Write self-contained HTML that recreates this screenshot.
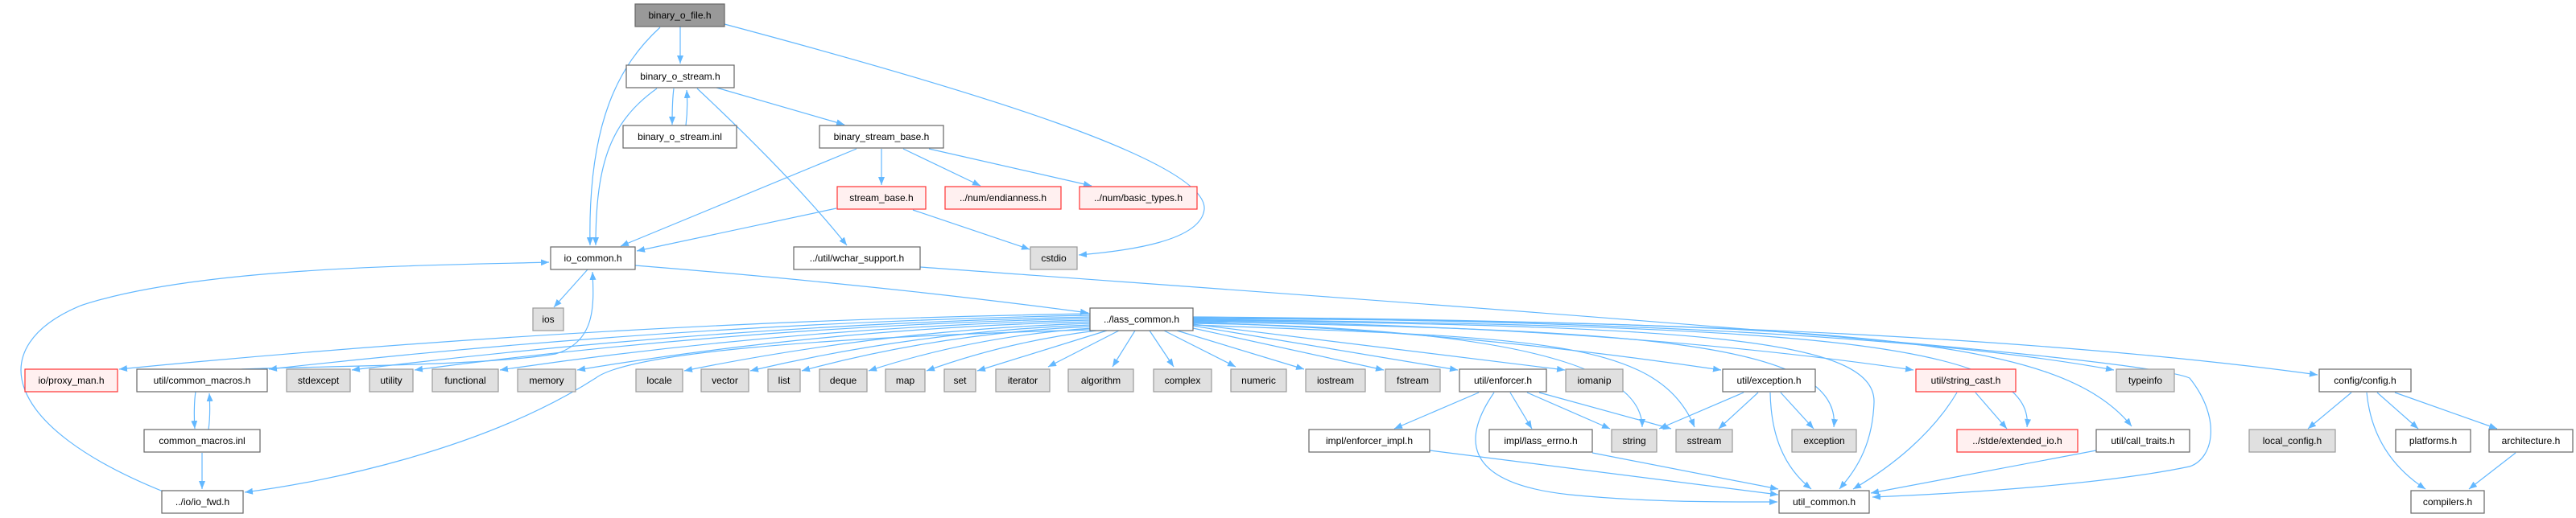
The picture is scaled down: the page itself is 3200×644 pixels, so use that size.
<!DOCTYPE html>
<html><head><meta charset="utf-8"><style>
html,body{margin:0;padding:0;background:#fff}
svg{display:block}
text{font-family:"Liberation Sans",sans-serif;font-size:12px;text-anchor:middle;fill:#000}
.n{fill:#fff;stroke:#666;stroke-width:1.2}
.g{fill:#e0e0e0;stroke:#999;stroke-width:1.2}
.r{fill:#fff0f0;stroke:#ff3333;stroke-width:1.2}
.m{fill:#999;stroke:#666;stroke-width:1.2}
path.e{fill:none;stroke:#63b8ff;stroke-width:1.2;marker-end:url(#a)}
</style></head><body>
<svg width="3200" height="644" viewBox="0 0 3200 644" xmlns="http://www.w3.org/2000/svg">
<defs><marker id="a" markerUnits="userSpaceOnUse" markerWidth="11" markerHeight="8" refX="10" refY="4" orient="auto"><path d="M0,0 L10,4 L0,8 z" fill="#63b8ff"/></marker></defs>
<g>
<path class="e" d="M845,33 L845,79"/>
<path class="e" d="M820,34 C770,80 730,150 733,305"/>
<path class="e" d="M900,30 C1200,110 1500,200 1496,260 C1492,300 1400,312 1340,317"/>
<path class="e" d="M816,110 C760,150 740,200 740,305"/>
<path class="e" d="M837,110 C835,125 835,140 835,155"/>
<path class="e" d="M852,156 C854,140 854,125 853,112"/>
<path class="e" d="M890,109 L1049,155"/>
<path class="e" d="M866,110 C930,170 1000,240 1052,305"/>
<path class="e" d="M1064,185 L771,306"/>
<path class="e" d="M1095,185 L1095,230"/>
<path class="e" d="M1122,185 L1218,231"/>
<path class="e" d="M1154,185 L1356,231"/>
<path class="e" d="M1039,259 L791,312"/>
<path class="e" d="M1134,261 L1279,310"/>
<path class="e" d="M1143,332 C1800,380 2650,440 2720,470 C2760,520 2750,570 2720,580 C2600,605 2400,615 2326,618"/>
<path class="e" d="M789,330 Q1100,355 1352,389"/>
<path class="e" d="M730,335 L688,382"/>
<path class="e" d="M205,612 C0,530 -20,430 100,380 C250,330 550,330 682,326"/>
<path class="e" d="M300,459 C400,455 600,455 690,440 C740,425 738,380 736,338"/>
<!-- lass_common fan left -->
<path class="e" d="M1354,390 Q750,400 148,459"/>
<path class="e" d="M1354,392 Q840,402 334,459"/>
<path class="e" d="M1354,394 Q890,404 437,460"/>
<path class="e" d="M1354,396 Q930,405 515,460"/>
<path class="e" d="M1354,398 Q990,406 621,460"/>
<path class="e" d="M1354,400 Q1030,408 717,460"/>
<path class="e" d="M1354,402 Q1100,410 850,461"/>
<path class="e" d="M1354,404 Q1140,412 932,461"/>
<path class="e" d="M1354,406 Q1170,414 996,461"/>
<path class="e" d="M1356,408 Q1210,418 1079,461"/>
<path class="e" d="M1362,411 Q1250,425 1151,461"/>
<path class="e" d="M1375,411 L1214,461"/>
<path class="e" d="M1390,411 L1302,456"/>
<path class="e" d="M1410,411 L1382,456"/>
<path class="e" d="M1428,411 L1458,456"/>
<path class="e" d="M1446,411 L1535,456"/>
<path class="e" d="M1462,411 L1620,459"/>
<path class="e" d="M1482,408 L1719,460"/>
<path class="e" d="M1482,405 L1811,460"/>
<path class="e" d="M1482,403 L1944,460"/>
<path class="e" d="M1482,401 Q1800,410 2138,460"/>
<path class="e" d="M1482,402 Q2040,410 2040,531"/>
<path class="e" d="M1482,404 C1900,420 2060,420 2105,531"/>
<path class="e" d="M1482,400 C2000,410 2290,420 2278,531"/>
<path class="e" d="M1482,398 C2100,405 2330,420 2328,500 C2326,560 2300,590 2285,608"/>
<path class="e" d="M1482,399 Q2000,405 2377,460"/>
<path class="e" d="M1482,397 C2200,405 2530,420 2518,531"/>
<path class="e" d="M1482,396 C2300,400 2560,420 2648,530"/>
<path class="e" d="M1482,395 Q2300,400 2626,460"/>
<path class="e" d="M1482,394 Q2400,400 2879,466"/>
<path class="e" d="M1354,410 C1000,420 780,440 740,470 C600,560 400,600 304,612"/>
<!-- lower -->
<path class="e" d="M243,487 C241,500 241,520 242,533"/>
<path class="e" d="M259,534 C261,520 261,505 260,489"/>
<path class="e" d="M251,563 L251,608"/>
<path class="e" d="M1837,488 L1732,533"/>
<path class="e" d="M1876,488 L1903,533"/>
<path class="e" d="M1897,488 L2000,533"/>
<path class="e" d="M1912,488 L2076,533"/>
<path class="e" d="M1856,488 C1820,540 1810,600 1950,615 C2050,625 2150,624 2208,624"/>
<path class="e" d="M1776,560 L2209,615"/>
<path class="e" d="M1978,563 L2209,608"/>
<path class="e" d="M2166,488 L2061,533"/>
<path class="e" d="M2184,488 L2135,533"/>
<path class="e" d="M2212,488 L2253,533"/>
<path class="e" d="M2199,488 C2200,540 2215,580 2250,608"/>
<path class="e" d="M2454,488 L2493,533"/>
<path class="e" d="M2431,488 C2400,540 2350,580 2302,608"/>
<path class="e" d="M2604,560 L2324,613"/>
<path class="e" d="M2921,488 L2867,533"/>
<path class="e" d="M2953,488 L3004,533"/>
<path class="e" d="M2975,488 L3102,533"/>
<path class="e" d="M2940,488 C2945,540 2970,580 3013,608"/>
<path class="e" d="M3125,563 L3067,608"/>
</g>
<g>
<rect class="m" x="789" y="5" width="111" height="28"/><text x="844.5" y="23">binary_o_file.h</text>
<rect class="n" x="778" y="81" width="134" height="28"/><text x="845" y="99">binary_o_stream.h</text>
<rect class="n" x="774" y="156" width="141" height="28"/><text x="844.5" y="174">binary_o_stream.inl</text>
<rect class="n" x="1018" y="156" width="154" height="28"/><text x="1095" y="174">binary_stream_base.h</text>
<rect class="r" x="1040" y="232" width="110" height="28"/><text x="1095" y="250">stream_base.h</text>
<rect class="r" x="1174" y="232" width="144" height="28"/><text x="1246" y="250">../num/endianness.h</text>
<rect class="r" x="1341" y="232" width="146" height="28"/><text x="1414" y="250">../num/basic_types.h</text>
<rect class="n" x="684" y="307" width="105" height="28"/><text x="736.5" y="325">io_common.h</text>
<rect class="n" x="986" y="307" width="157" height="28"/><text x="1064.5" y="325">../util/wchar_support.h</text>
<rect class="g" x="1280" y="307" width="58" height="28"/><text x="1309" y="325">cstdio</text>
<rect class="g" x="662" y="383" width="38" height="28"/><text x="681" y="401">ios</text>
<rect class="n" x="1354" y="383" width="128" height="28"/><text x="1418" y="401">../lass_common.h</text>
<rect class="r" x="31" y="459" width="115" height="28"/><text x="88.5" y="477">io/proxy_man.h</text>
<rect class="n" x="170" y="459" width="162" height="28"/><text x="251" y="477">util/common_macros.h</text>
<rect class="g" x="356" y="459" width="79" height="28"/><text x="395.5" y="477">stdexcept</text>
<rect class="g" x="459" y="459" width="54" height="28"/><text x="486" y="477">utility</text>
<rect class="g" x="537" y="459" width="82" height="28"/><text x="578" y="477">functional</text>
<rect class="g" x="643" y="459" width="72" height="28"/><text x="679" y="477">memory</text>
<rect class="g" x="790" y="459" width="58" height="28"/><text x="819" y="477">locale</text>
<rect class="g" x="871" y="459" width="59" height="28"/><text x="900.5" y="477">vector</text>
<rect class="g" x="954" y="459" width="40" height="28"/><text x="974" y="477">list</text>
<rect class="g" x="1018" y="459" width="59" height="28"/><text x="1047.5" y="477">deque</text>
<rect class="g" x="1100" y="459" width="49" height="28"/><text x="1124.5" y="477">map</text>
<rect class="g" x="1173" y="459" width="39" height="28"/><text x="1192.5" y="477">set</text>
<rect class="g" x="1237" y="459" width="67" height="28"/><text x="1270.5" y="477">iterator</text>
<rect class="g" x="1327" y="459" width="81" height="28"/><text x="1367.5" y="477">algorithm</text>
<rect class="g" x="1433" y="459" width="72" height="28"/><text x="1469" y="477">complex</text>
<rect class="g" x="1529" y="459" width="69" height="28"/><text x="1563.5" y="477">numeric</text>
<rect class="g" x="1622" y="459" width="74" height="28"/><text x="1659" y="477">iostream</text>
<rect class="g" x="1721" y="459" width="68" height="28"/><text x="1755" y="477">fstream</text>
<rect class="n" x="1813" y="459" width="108" height="28"/><text x="1867" y="477">util/enforcer.h</text>
<rect class="g" x="1945" y="459" width="71" height="28"/><text x="1980.5" y="477">iomanip</text>
<rect class="n" x="2140" y="459" width="115" height="28"/><text x="2197.5" y="477">util/exception.h</text>
<rect class="r" x="2380" y="459" width="124" height="28"/><text x="2442" y="477">util/string_cast.h</text>
<rect class="g" x="2629" y="459" width="72" height="28"/><text x="2665" y="477">typeinfo</text>
<rect class="n" x="2881" y="459" width="114" height="28"/><text x="2938" y="477">config/config.h</text>
<rect class="n" x="179" y="534" width="144" height="28"/><text x="251" y="552">common_macros.inl</text>
<rect class="n" x="1626" y="534" width="150" height="28"/><text x="1701" y="552">impl/enforcer_impl.h</text>
<rect class="n" x="1850" y="534" width="128" height="28"/><text x="1914" y="552">impl/lass_errno.h</text>
<rect class="g" x="2002" y="534" width="56" height="28"/><text x="2030" y="552">string</text>
<rect class="g" x="2082" y="534" width="70" height="28"/><text x="2117" y="552">sstream</text>
<rect class="g" x="2226" y="534" width="80" height="28"/><text x="2266" y="552">exception</text>
<rect class="r" x="2431" y="534" width="150" height="28"/><text x="2506" y="552">../stde/extended_io.h</text>
<rect class="n" x="2604" y="534" width="116" height="28"/><text x="2662" y="552">util/call_traits.h</text>
<rect class="g" x="2794" y="534" width="107" height="28"/><text x="2847.5" y="552">local_config.h</text>
<rect class="n" x="2976" y="534" width="93" height="28"/><text x="3022.5" y="552">platforms.h</text>
<rect class="n" x="3092" y="534" width="104" height="28"/><text x="3144" y="552">architecture.h</text>
<rect class="n" x="201" y="610" width="101" height="28"/><text x="251.5" y="628">../io/io_fwd.h</text>
<rect class="n" x="2210" y="610" width="112" height="28"/><text x="2266" y="628">util_common.h</text>
<rect class="n" x="2995" y="610" width="91" height="28"/><text x="3040.5" y="628">compilers.h</text>
</g>
</svg>
</body></html>
